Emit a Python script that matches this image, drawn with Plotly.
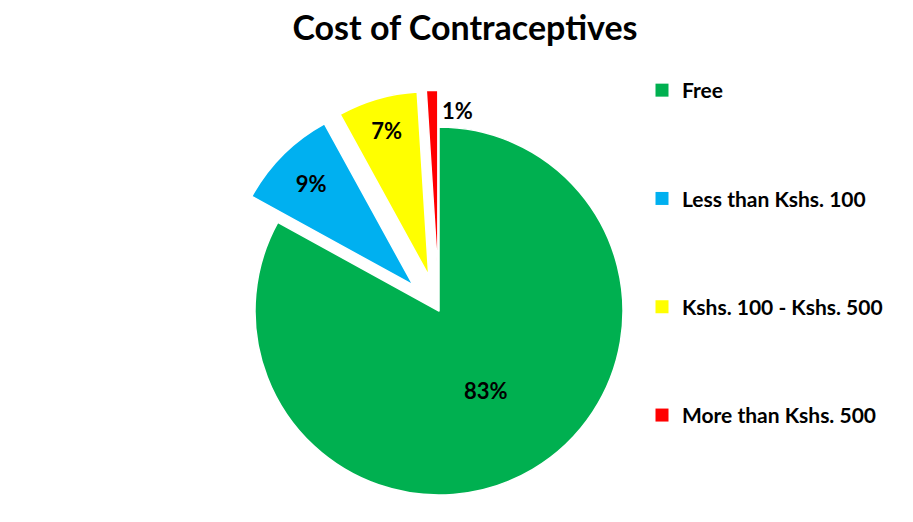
import math
import plotly.graph_objects as go

# Survey categories and their shares (%)
labels = ["Free", "Less than Kshs. 100", "Kshs. 100 - Kshs. 500", "More than Kshs. 500"]
values = [83, 9, 7, 1]
colors = ["#00B050", "#00B0F0", "#FFFF00", "#FF0000"]
pulls = [0.0, 0.2, 0.2, 0.2]
inside_label = [True, True, True, False]

W, H = 913, 522
CX, CY, R = 439, 311, 184  # pie centre and radius in pixels
FONT = "Lato"
LABEL_FONT = dict(family=FONT, size=22, color="black", weight="bold")

fig = go.Figure()
annotations = []

total = float(sum(values))
cum = 0.0
for i, (lab, v) in enumerate(zip(labels, values)):
    start = cum / total
    mid = (cum + v / 2.0) / total
    cum += v
    ang = 2 * math.pi * mid  # clockwise from 12 o'clock
    off = pulls[i] * R
    cx = CX + off * math.sin(ang)
    cy = CY - off * math.cos(ang)
    dom_x = [(cx - R) / W, (cx + R) / W]
    dom_y = [1 - (cy + R) / H, 1 - (cy - R) / H]

    # each slice is its own pie layer so the exploded slices keep full radius
    slice_colors = [colors[j] if j == i else "rgba(0,0,0,0)" for j in range(len(values))]
    line_w = [1.5 if j == i else 0 for j in range(len(values))]
    txt = [f"{values[j]}%" if (j == i and inside_label[j]) else "" for j in range(len(values))]
    pos = ["inside" if (j == i and inside_label[j]) else "none" for j in range(len(values))]

    fig.add_trace(go.Pie(
        labels=labels,
        values=values,
        sort=False,
        direction="clockwise",
        rotation=0,
        marker=dict(colors=slice_colors, line=dict(color="white", width=line_w)),
        text=txt,
        textinfo="text",
        textposition=pos,
        insidetextorientation="horizontal",
        insidetextfont=LABEL_FONT,
        domain=dict(x=dom_x, y=dom_y),
        showlegend=False,
        hoverinfo="label+percent",
    ))

    if not inside_label[i]:
        # small slice: label sits beside the slice's outer end
        tip_x = cx + R * math.sin(2 * math.pi * (start + v / total))
        tip_y = cy - R * math.cos(2 * math.pi * (start + v / total))
        annotations.append(dict(
            text=f"{v}%", showarrow=False,
            x=(tip_x + 2) / W, xref="paper", xanchor="left",
            y=1 - (tip_y + 20) / H, yref="paper", yanchor="middle",
            font=LABEL_FONT,
        ))

# legend entries
for lab, c in zip(labels, colors):
    fig.add_trace(go.Scatter(
        x=[None], y=[None], mode="markers",
        marker=dict(symbol="square", size=13, color=c),
        name=lab, legendgroup=lab, showlegend=True,
    ))

fig.update_layout(
    width=W, height=H,
    margin=dict(l=0, r=0, t=0, b=0),
    paper_bgcolor="white",
    plot_bgcolor="white",
    title=dict(
        text="Cost of Contraceptives",
        x=465 / W, xanchor="center",
        y=1 - 28 / H, yanchor="middle",
        font=dict(family=FONT, size=34, color="black", weight="bold"),
    ),
    xaxis=dict(visible=False),
    yaxis=dict(visible=False),
    legend=dict(
        x=642 / W, xanchor="left",
        y=1 - 70 / H, yanchor="top",
        tracegroupgap=78,
        font=dict(family=FONT, size=21, color="black", weight="bold"),
        bgcolor="rgba(0,0,0,0)",
    ),
    annotations=annotations,
)

fig.write_html("out.html")
